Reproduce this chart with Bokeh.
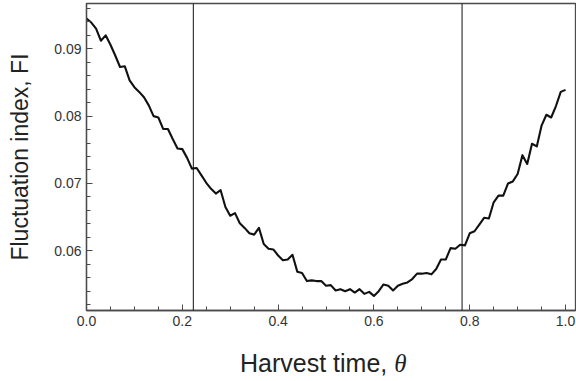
from bokeh.plotting import figure
from bokeh.layouts import column
from bokeh.models import Span, SingleIntervalTicker, NumeralTickFormatter, Range1d, Div
from bokeh.embed import file_html
from bokeh.resources import INLINE

# Harvest time theta (x) and fluctuation index FI (y)
theta = [0.00, 0.01, 0.02, 0.03, 0.04, 0.05, 0.06, 0.07, 0.08, 0.09,
         0.10, 0.11, 0.12, 0.13, 0.14, 0.15, 0.16, 0.17, 0.18, 0.19,
         0.20, 0.21, 0.22, 0.23, 0.24, 0.25, 0.26, 0.27, 0.28, 0.29,
         0.30, 0.31, 0.32, 0.33, 0.34, 0.35, 0.36, 0.37, 0.38, 0.39,
         0.40, 0.41, 0.42, 0.43, 0.44, 0.45, 0.46, 0.47, 0.48, 0.49,
         0.50, 0.51, 0.52, 0.53, 0.54, 0.55, 0.56, 0.57, 0.58, 0.59,
         0.60, 0.61, 0.62, 0.63, 0.64, 0.65, 0.66, 0.67, 0.68, 0.69,
         0.70, 0.71, 0.72, 0.73, 0.74, 0.75, 0.76, 0.77, 0.78, 0.79,
         0.80, 0.81, 0.82, 0.83, 0.84, 0.85, 0.86, 0.87, 0.88, 0.89,
         0.90, 0.91, 0.92, 0.93, 0.94, 0.95, 0.96, 0.97, 0.98, 0.99,
         1.00]
fi = [0.0945, 0.0939, 0.0930, 0.0912, 0.0920, 0.0906, 0.0890, 0.0873, 0.0874, 0.0853,
      0.0843, 0.0836, 0.0828, 0.0816, 0.0800, 0.0798, 0.0781, 0.0781, 0.0766, 0.0752,
      0.0751, 0.0738, 0.0722, 0.0723, 0.0712, 0.0701, 0.0692, 0.0685, 0.0690, 0.0665,
      0.0652, 0.0656, 0.0641, 0.0634, 0.0626, 0.0624, 0.0634, 0.0610, 0.0603, 0.0602,
      0.0593, 0.0586, 0.0587, 0.0594, 0.0569, 0.0567, 0.0555, 0.0556, 0.0555, 0.0555,
      0.0548, 0.0549, 0.0541, 0.0543, 0.0540, 0.0543, 0.0538, 0.0543, 0.0536, 0.0539,
      0.0533, 0.0540, 0.0550, 0.0548, 0.0541, 0.0548, 0.0551, 0.0553, 0.0558, 0.0566,
      0.0566, 0.0567, 0.0565, 0.0573, 0.0587, 0.0587, 0.0604, 0.0603, 0.0609, 0.0608,
      0.0626, 0.0629, 0.0639, 0.0649, 0.0648, 0.0672, 0.0682, 0.0682, 0.0700, 0.0703,
      0.0714, 0.0742, 0.0729, 0.0759, 0.0755, 0.0786, 0.0802, 0.0798, 0.0815, 0.0836,
      0.0839]

# Boundaries of the marked harvest window
window_bounds = [0.223, 0.784]

SANS = "Liberation Sans"
AXIS_GREY = "#4a4a4a"

p = figure(width=576, height=340, output_backend="svg", toolbar_location=None,
           x_range=Range1d(0.0, 1.0208), y_range=Range1d(0.05113, 0.09673),
           min_border_left=86, min_border_right=1, min_border_top=3, min_border_bottom=30)

p.background_fill_color = "white"
p.border_fill_color = "white"
p.outline_line_color = AXIS_GREY
p.outline_line_width = 1.3
p.grid.visible = False

p.line(theta, fi, line_color="#111111", line_width=2.1, line_join="round")

for b in window_bounds:
    p.add_layout(Span(location=b, dimension="height", line_color="#111111", line_width=1))

# axes: inward ticks, left and bottom only
for ax in (p.xaxis[0], p.yaxis[0]):
    ax.axis_line_color = AXIS_GREY
    ax.axis_line_width = 1.3
    ax.major_tick_line_color = AXIS_GREY
    ax.minor_tick_line_color = AXIS_GREY
    ax.major_tick_in = 6
    ax.major_tick_out = 0
    ax.minor_tick_in = 4
    ax.minor_tick_out = 0
    ax.major_label_text_font = SANS
    ax.major_label_text_font_size = "14px"
    ax.major_label_text_color = "#333333"
    ax.major_label_standoff = 5

p.xaxis[0].ticker = SingleIntervalTicker(interval=0.2, num_minor_ticks=4)
p.xaxis[0].formatter = NumeralTickFormatter(format="0.0")
p.yaxis[0].ticker = SingleIntervalTicker(interval=0.01, num_minor_ticks=5)
p.yaxis[0].formatter = NumeralTickFormatter(format="0.00")

p.yaxis[0].axis_label = "Fluctuation index, FI"
p.yaxis[0].axis_label_text_font = SANS
p.yaxis[0].axis_label_text_font_style = "normal"
p.yaxis[0].axis_label_text_font_size = "23px"
p.yaxis[0].axis_label_text_color = "#222222"
p.yaxis[0].axis_label_standoff = 18

# x-axis title below the plot, with an italic serif theta
x_title = Div(
    text='Harvest time, <span style="font-family:\'Liberation Serif\';font-style:italic">θ</span>',
    width=576, height=41, margin=0,
    styles={"font-family": "'Liberation Sans', Arial, sans-serif", "font-size": "25px",
            "line-height": "25px", "color": "#222222", "text-indent": "240px",
            "padding-top": "11px", "box-sizing": "border-box", "overflow": "hidden",
            "white-space": "nowrap", "background": "white"})

layout = column(p, x_title, spacing=0)
open("out.html", "w").write(file_html(layout, INLINE))
